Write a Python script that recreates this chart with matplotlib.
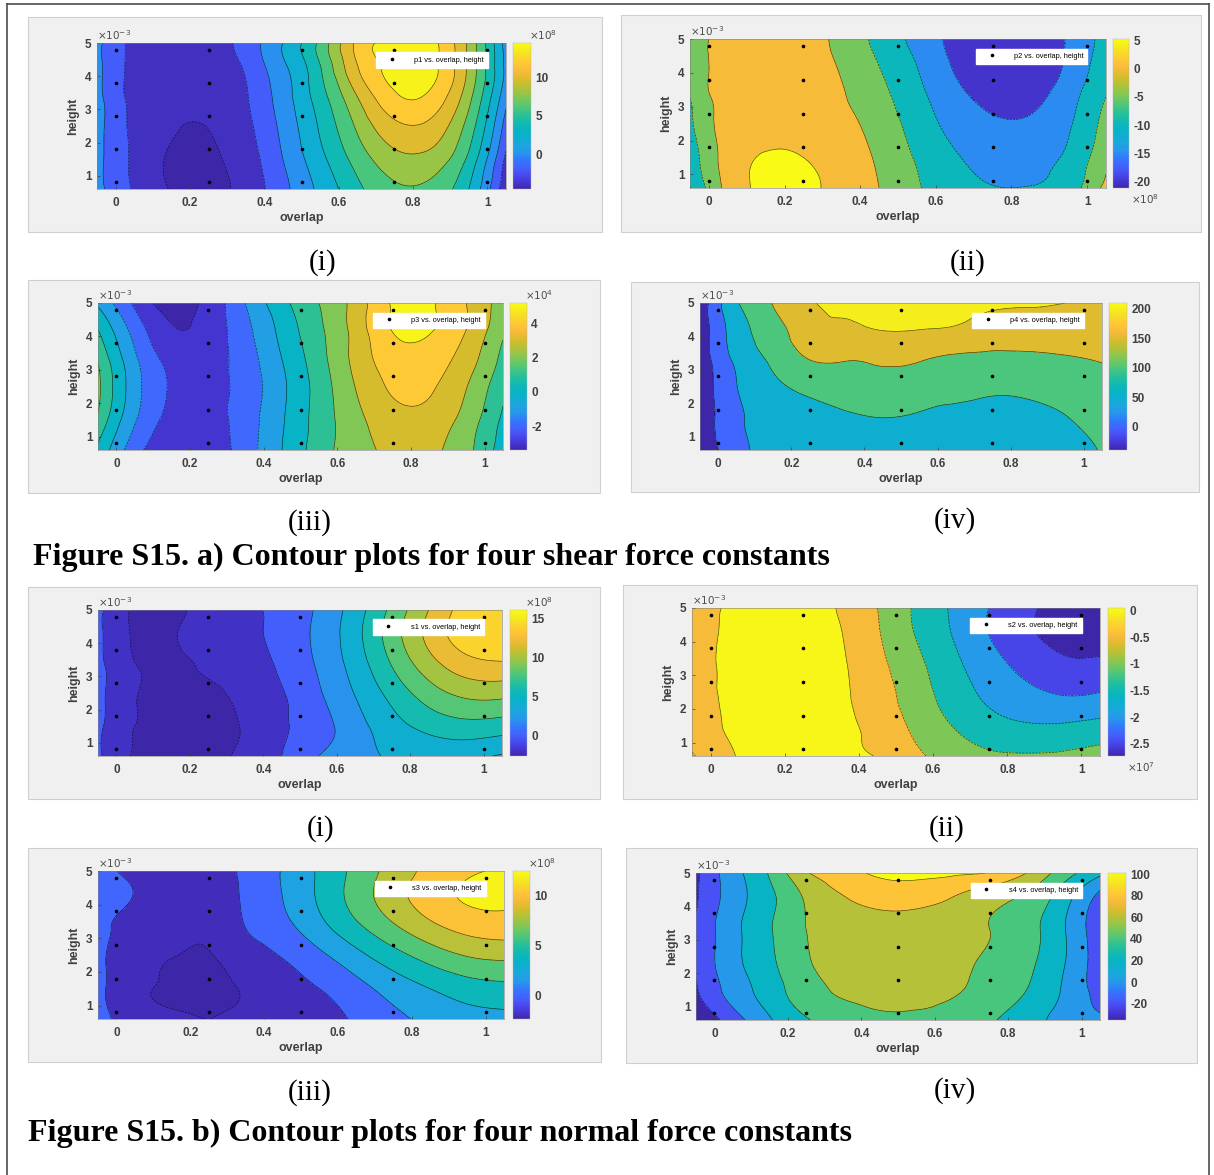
import numpy as np
import matplotlib
matplotlib.use("Agg")
import matplotlib.pyplot as plt
import matplotlib.tri as mtri
from matplotlib.colors import LinearSegmentedColormap, Normalize
from matplotlib.patches import Rectangle
from matplotlib.lines import Line2D
from matplotlib.cm import ScalarMappable
from matplotlib.ticker import FuncFormatter

plt.rcParams['font.family'] = ['Liberation Sans', 'DejaVu Sans']
plt.rcParams['axes.unicode_minus'] = False

# ---------------- data ----------------
overlap_grid = [-0.05, 0.05, 0.15, 0.25, 0.35, 0.45, 0.55, 0.65, 0.75, 0.85, 0.95, 1.05]
height_grid = [0.6, 1.5, 2.4, 3.3, 4.2, 5.0]          # x 1e-3
overlap_pts = [0.0, 0.25, 0.5, 0.75, 1.0]
height_pts = [0.8, 1.8, 2.8, 3.8, 4.8]                # x 1e-3
x_ticks = [0, 0.2, 0.4, 0.6, 0.8, 1.0]
y_ticks = [1, 2, 3, 4, 5]

# fitted surfaces (rows: height_grid, cols: overlap_grid)
p1 = [[0.6, -2.2, -4.1, -4.5, -3.3, -0.6, 2.5, 5.5, 7.6, 7.4, 4.0, -3.5],
      [0.6, -2.4, -4.2, -4.3, -3.0, 0.0, 3.4, 6.8, 9.3, 9.2, 5.5, -2.5],
      [0.7, -2.5, -3.9, -4.0, -2.6, 0.5, 4.2, 8.2, 11.3, 11.2, 7.0, -1.0],
      [0.7, -2.6, -3.7, -3.7, -2.2, 1.0, 5.0, 9.8, 13.5, 13.3, 8.5, 0.5],
      [0.6, -2.6, -3.5, -3.4, -1.8, 1.5, 5.8, 11.8, 14.6, 14.5, 9.5, 1.5],
      [0.5, -2.5, -3.4, -3.0, -1.2, 2.0, 6.5, 12.5, 14.6, 14.5, 9.5, 1.0]]
p2 = [[-10.3, 1.5, 5.8, 5.6, 3.8, 0.0, -4.5, -8.0, -9.8, -9.8, -7.5, 1.5],
      [-8.0, 2.0, 5.3, 5.0, 3.0, -0.8, -5.5, -9.5, -11.5, -11.5, -9.0, -1.0],
      [-6.0, 2.3, 4.3, 4.0, 1.8, -2.0, -7.0, -11.5, -14.0, -14.0, -10.5, -3.0],
      [-4.8, 2.5, 3.5, 3.0, 0.5, -3.5, -8.5, -13.5, -16.5, -16.5, -12.0, -5.0],
      [-4.0, 2.5, 3.0, 2.2, -0.5, -5.0, -10.0, -15.5, -19.0, -19.0, -14.0, -7.0],
      [-3.5, 2.4, 2.6, 1.5, -1.2, -6.5, -11.5, -16.5, -19.5, -19.0, -14.5, -8.0]]
p3 = [[0.8, -1.6, -2.7, -2.6, -1.5, 0.0, 1.5, 2.6, 3.2, 3.2, 2.3, 0.5],
      [1.8, -0.9, -2.3, -2.4, -1.5, -0.1, 1.4, 2.7, 3.6, 3.6, 2.6, 0.8],
      [2.2, -0.6, -2.1, -2.3, -1.6, -0.2, 1.4, 3.0, 4.1, 4.1, 3.0, 1.2],
      [1.9, -0.8, -2.3, -2.4, -1.5, 0.0, 1.6, 3.3, 4.5, 4.5, 3.5, 1.7],
      [1.0, -1.4, -2.9, -2.6, -1.3, 0.3, 1.8, 3.4, 5.05, 5.1, 4.0, 2.2],
      [-0.2, -2.2, -3.4, -2.7, -1.0, 0.7, 2.0, 3.4, 5.1, 5.15, 4.0, 2.5]]
p4 = [[-38, 35, 62, 72, 74, 75, 73, 68, 65, 68, 80, 103],
      [-36, 40, 72, 88, 94, 98, 93, 85, 82, 85, 97, 118],
      [-34, 48, 88, 108, 118, 128, 120, 112, 105, 108, 118, 135],
      [-33, 60, 110, 150, 152, 158, 153, 140, 137, 139, 145, 152],
      [-33, 75, 130, 180, 192, 201, 200, 195, 180, 178, 176, 175],
      [-34, 95, 152, 196, 208, 212, 212, 208, 204, 203, 200, 198]]
s1 = [[0.3, -2.2, -2.5, -2.5, -1.5, 0.0, 2.0, 3.3, 4.2, 4.6, 4.5, 3.8],
      [0.5, -2.0, -2.5, -2.6, -1.8, -0.3, 1.2, 3.2, 5.2, 6.6, 7.3, 7.0],
      [0.6, -1.9, -2.5, -2.4, -1.5, -0.2, 1.7, 4.0, 6.5, 8.8, 10.2, 10.3],
      [0.6, -1.9, -2.3, -1.8, -1.0, 0.3, 2.2, 4.8, 8.0, 11.0, 13.0, 13.5],
      [0.5, -2.2, -2.2, -1.0, -0.4, 0.6, 2.5, 5.3, 9.0, 12.5, 15.0, 16.0],
      [0.5, -2.3, -2.5, -1.2, -0.3, 0.5, 2.3, 5.0, 8.5, 12.0, 14.8, 15.8]]
s2 = [[-0.55, -0.05, 0.08, 0.1, 0.06, -0.02, -0.38, -0.72, -0.92, -0.95, -0.92, -0.8],
      [-0.3, 0.04, 0.12, 0.14, 0.08, -0.15, -0.6, -1.0, -1.3, -1.45, -1.45, -1.35],
      [-0.2, 0.06, 0.14, 0.15, 0.06, -0.25, -0.75, -1.2, -1.6, -1.85, -2.0, -1.95],
      [-0.15, 0.06, 0.14, 0.15, 0.05, -0.35, -0.85, -1.35, -1.8, -2.15, -2.4, -2.4],
      [-0.2, 0.06, 0.13, 0.12, 0.02, -0.45, -1.0, -1.5, -2.0, -2.4, -2.65, -2.72],
      [-0.25, 0.05, 0.12, 0.1, -0.03, -0.5, -1.05, -1.55, -2.0, -2.4, -2.65, -2.7]]
s3 = [[0.8, -1.2, -1.7, -2.0, -1.5, -1.3, -0.8, 0.3, 1.5, 2.5, 3.2, 3.4],
      [0.6, -1.6, -2.2, -2.4, -1.8, -0.9, 0.0, 1.3, 2.8, 4.0, 5.0, 5.4],
      [0.5, -1.4, -2.0, -2.1, -1.2, 0.0, 1.4, 3.2, 5.0, 6.6, 7.8, 8.2],
      [0.6, -0.8, -1.6, -1.7, 0.0, 1.4, 3.3, 5.5, 7.6, 9.4, 10.6, 11.0],
      [1.0, -0.1, -1.3, -1.4, 0.3, 2.0, 4.3, 6.8, 9.2, 11.0, 12.2, 12.3],
      [0.7, -0.6, -1.5, -1.3, 0.5, 2.1, 4.3, 6.6, 8.8, 10.6, 11.8, 12.0]]
s4 = [[-40, -10, 18, 38, 52, 57, 57, 53, 42, 30, 12, 5],
      [-22, 8, 30, 52, 62, 64, 64, 62, 52, 40, 18, -8],
      [-18, 14, 36, 58, 66, 68, 68, 65, 57, 45, 22, -12],
      [-19, 14, 38, 60, 68, 70, 70, 67, 60, 48, 22, -14],
      [-22, 10, 35, 62, 78, 86, 86, 78, 66, 55, 28, -8],
      [-24, 12, 42, 78, 92, 104, 105, 103, 99, 80, 50, 25]]

# contour levels, colour limits and colourbar ticks (in units of the exponent)
levels = {
    'p1': [-4, -2, 0, 2, 4, 6, 8, 10, 12, 14],
    'p2': [-20, -15, -10, -5, 0, 5],
    'p3': [-3, -2, -1, 0, 1, 2, 3, 4, 5],
    'p4': [0, 50, 100, 150, 200],
    's1': [-2, 0, 2, 4, 6, 8, 10, 12, 14],
    's2': [-2.5, -2, -1.5, -1, -0.5, 0],
    's3': [-2, 0, 2, 4, 6, 8, 10, 12],
    's4': [-20, 0, 20, 40, 60, 80, 100],
}
clims = {'p1': (-4.6, 14.6), 'p2': (-21.1, 5.2), 'p3': (-3.4, 5.2), 'p4': (-39, 210),
         's1': (-2.6, 16.1), 's2': (-2.73, 0.05), 's3': (-2.3, 12.4), 's4': (-35, 101)}
cbar_ticks = {'p1': [0, 5, 10], 'p2': [-20, -15, -10, -5, 0, 5], 'p3': [-2, 0, 2, 4],
              'p4': [0, 50, 100, 150, 200], 's1': [0, 5, 10, 15],
              's2': [-2.5, -2, -1.5, -1, -0.5, 0], 's3': [0, 5, 10],
              's4': [-20, 0, 20, 40, 60, 80, 100]}
exponents = {'p1': ('8', 'top'), 'p2': ('8', 'bottom'), 'p3': ('4', 'top'), 'p4': None,
             's1': ('8', 'top'), 's2': ('7', 'bottom'), 's3': ('8', 'top'), 's4': None}
surfaces = {'p1': p1, 'p2': p2, 'p3': p3, 'p4': p4, 's1': s1, 's2': s2, 's3': s3, 's4': s4}

captions = ['(i)', '(ii)', '(iii)', '(iv)', '(i)', '(ii)', '(iii)', '(iv)']
title_a = 'Figure S15. a) Contour plots for four shear force constants'
title_b = 'Figure S15. b) Contour plots for four normal force constants'

# ---------------- layout (pixels, top-left origin) ----------------
W, H = 1214, 1175
layout = {
    # name: (box, plot, cbar x-range, caption position)
    'p1': ((28, 17, 602, 232), (97, 43, 506, 189), (513, 531), (323, 263)),
    'p2': ((621, 15, 1201, 232), (690, 39, 1106, 188), (1113, 1129), (968, 263)),
    'p3': ((28, 280, 600, 493), (98, 303, 503, 450), (510, 527), (310, 523)),
    'p4': ((631, 282, 1199, 492), (700, 303, 1102, 450), (1109, 1127), (955, 521)),
    's1': ((28, 587, 600, 799), (98, 610, 502, 756), (510, 527), (321, 829)),
    's2': ((623, 585, 1197, 799), (692, 608, 1100, 756), (1108, 1125), (947, 829)),
    's3': ((28, 848, 601, 1062), (98, 871, 504, 1019), (513, 530), (310, 1093)),
    's4': ((626, 848, 1197, 1063), (696, 873, 1100, 1020), (1108, 1126), (955, 1091)),
}
order = ['p1', 'p2', 'p3', 'p4', 's1', 's2', 's3', 's4']

PARULA = [(0.2422, 0.1504, 0.6603), (0.2717, 0.2184, 0.8395), (0.2814, 0.3010, 0.9482),
          (0.2593, 0.3892, 0.9956), (0.1953, 0.4735, 0.9880), (0.1540, 0.5902, 0.9218),
          (0.1160, 0.6440, 0.8760), (0.0590, 0.6809, 0.8227), (0.0267, 0.7049, 0.7686),
          (0.0670, 0.7280, 0.6970), (0.1540, 0.7500, 0.6050), (0.2770, 0.7740, 0.5010),
          (0.4210, 0.7830, 0.3890), (0.5750, 0.7750, 0.2900), (0.7170, 0.7570, 0.2160),
          (0.8490, 0.7370, 0.1720), (0.9600, 0.7290, 0.2230), (0.9980, 0.7700, 0.2150),
          (0.9760, 0.8420, 0.1660), (0.9600, 0.9200, 0.1200), (0.9769, 0.9839, 0.0805)]
parula = LinearSegmentedColormap.from_list('parula', PARULA, N=256)


def frect(x0, y0, x1, y1):
    return [x0 / W, 1 - y1 / H, (x1 - x0) / W, (y1 - y0) / H]


fig = plt.figure(figsize=(W / 100, H / 100), dpi=100)
fig.patch.set_facecolor('white')

# outer frame
for xs, ys in [((7, 1209), (4, 4)), ((7, 7), (4, 1175)), ((1209, 1209), (4, 1175))]:
    fig.add_artist(Line2D([xs[0] / W, xs[1] / W], [1 - ys[0] / H, 1 - ys[1] / H],
                          color='0.3', lw=1.2, transform=fig.transFigure))

# triangulation of the read grid (x stretched so cells are nearly square on screen)
SX = 11.0
GX, GY = np.meshgrid(np.array(overlap_grid), np.array(height_grid))
base_tri = mtri.Triangulation(GX.ravel() * SX, GY.ravel())
refiner = mtri.UniformTriRefiner(base_tri)
PX, PY = np.meshgrid(np.array(overlap_pts), np.array(height_pts))

lab_kw = dict(fontsize=9, fontweight='bold', color='0.25')
fmt = FuncFormatter(lambda v, p: ('%g' % v))

for i, name in enumerate(order):
    box, prect, crange, cap = layout[name]
    fig.add_artist(Rectangle((box[0] / W, 1 - box[3] / H), (box[2] - box[0]) / W,
                             (box[3] - box[1]) / H, transform=fig.transFigure,
                             facecolor='#f0f0f0', edgecolor='#cfcfcf', lw=0.8, zorder=-5))
    ax = fig.add_axes(frect(*prect))
    cax = fig.add_axes(frect(crange[0], prect[1], crange[1], prect[3]))

    z = np.asarray(surfaces[name], float).ravel()
    interp = mtri.CubicTriInterpolator(base_tri, z, kind='min_E')
    tri_r, z_r = refiner.refine_field(z, triinterpolator=interp, subdiv=4)
    tri_p = mtri.Triangulation(tri_r.x / SX, tri_r.y, tri_r.triangles)

    lv = levels[name]
    cmin, cmax = clims[name]
    zlo = min(z_r.min(), lv[0]) - 1.0
    zhi = max(z_r.max(), lv[-1]) + 1.0
    fill_lv = [zlo] + list(lv) + [zhi]
    cols = [parula(0.0)] + [parula(float(np.clip((L - cmin) / (cmax - cmin), 0, 1))) for L in lv]
    ax.tricontourf(tri_p, z_r, levels=fill_lv, colors=cols)
    ax.tricontour(tri_p, z_r, levels=lv, colors='k', linewidths=0.45, alpha=0.75)

    ax.plot(PX.ravel(), PY.ravel(), 'k.', ms=3.2, label='%s vs. overlap, height' % name)
    ax.set_xlim(-0.05, 1.05)
    ax.set_ylim(0.6, 5.0)
    ax.set_xticks(x_ticks)
    ax.set_xticklabels(['%g' % t for t in x_ticks])
    ax.set_yticks(y_ticks)
    ax.set_yticklabels(['%g' % t for t in y_ticks])
    ax.tick_params(labelsize=8.5, length=2, width=0.5, direction='in', colors='0.25')
    ax.tick_params(axis='x', pad=6)
    ax.tick_params(axis='y', pad=4)
    for t in ax.get_xticklabels() + ax.get_yticklabels():
        t.set_fontweight('bold')
    for sp in ax.spines.values():
        sp.set_linewidth(0.4)
        sp.set_color('0.5')
    ax.set_xlabel('overlap', labelpad=2, **lab_kw)
    ax.set_ylabel('height', labelpad=4, **lab_kw)
    ax.text(0.0, 1.005, r'$\times 10^{-3}$', transform=ax.transAxes, ha='left', va='bottom',
            fontsize=7.5, color='0.3')
    ax.legend(loc='upper right', bbox_to_anchor=(0.955, 0.935), fontsize=5.3,
              frameon=True, fancybox=False, framealpha=1, edgecolor='white',
              borderpad=0.55, handlelength=3.2, handletextpad=1.4, borderaxespad=0)

    sm = ScalarMappable(norm=Normalize(cmin, cmax), cmap=parula)
    cb = fig.colorbar(sm, cax=cax, ticks=cbar_ticks[name], format=fmt)
    cb.outline.set_linewidth(0.3)
    cb.outline.set_edgecolor('0.7')
    cax.tick_params(labelsize=8.5, length=0, colors='0.25', pad=3)
    for t in cax.get_yticklabels():
        t.set_fontweight('bold')
    ex = exponents[name]
    if ex is not None:
        if ex[1] == 'top':
            cax.text(0.9, 1.005, r'$\times 10^{%s}$' % ex[0], transform=cax.transAxes,
                     ha='left', va='bottom', fontsize=7.5, color='0.3')
        else:
            cax.text(1.1, -0.03, r'$\times 10^{%s}$' % ex[0], transform=cax.transAxes,
                     ha='left', va='top', fontsize=7.5, color='0.3')

    fig.text(cap[0] / W, 1 - cap[1] / H, captions[i], ha='center', va='center',
             family='Liberation Serif', fontsize=21)

fig.text(33 / W, 1 - 557 / H, title_a, ha='left', va='center', family='Liberation Serif',
         fontweight='bold', fontsize=23)
fig.text(28 / W, 1 - 1133 / H, title_b, ha='left', va='center', family='Liberation Serif',
         fontweight='bold', fontsize=23)

fig.savefig('out.png', dpi=100, facecolor='white')
